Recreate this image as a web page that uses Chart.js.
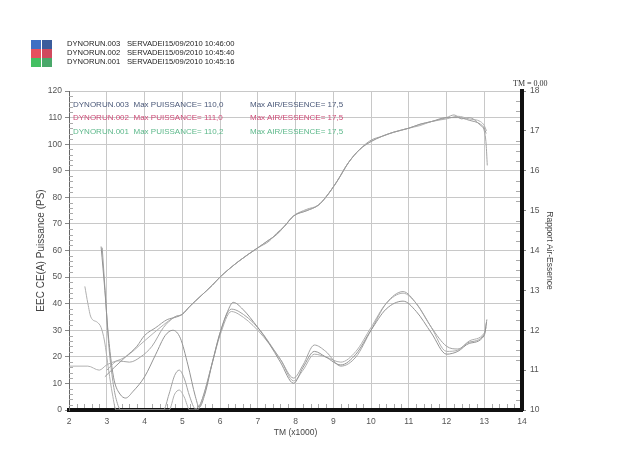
<!DOCTYPE html>
<html>
<head>
<meta charset="utf-8">
<script src="https://cdn.jsdelivr.net/npm/chart.js@4.4.1/dist/chart.umd.min.js"></script>
<style>
  html,body{margin:0;padding:0;background:#fff;}
  #wrap{position:relative;width:640px;height:465px;overflow:hidden;font-family:"Liberation Sans",Arial,sans-serif;}
  canvas{position:absolute;left:0;top:0;}
  .t{position:absolute;white-space:pre;font-size:7.6px;line-height:9px;color:#222;}
  .sq{position:absolute;width:10px;height:9px;}
  .il{position:absolute;white-space:pre;font-size:8px;line-height:10px;}
  #tm{position:absolute;left:513px;top:79px;font-family:"Liberation Serif","DejaVu Serif",serif;font-size:8px;color:#333;}
</style>
</head>
<body>
<div id="wrap">
  <canvas id="c" width="640" height="465"></canvas>
  <div class="sq" style="left:31px;top:40px;background:#3f6fc4"></div>
  <div class="sq" style="left:42px;top:40px;background:#3b5c9c"></div>
  <div class="sq" style="left:31px;top:49px;background:#e8505e"></div>
  <div class="sq" style="left:42px;top:49px;background:#d04a5e"></div>
  <div class="sq" style="left:31px;top:58px;background:#44c062"></div>
  <div class="sq" style="left:42px;top:58px;background:#4aa86a"></div>
  <div class="t" id="l1" style="left:67px;top:39px"></div>
  <div class="t" id="l2" style="left:67px;top:48px"></div>
  <div class="t" id="l3" style="left:67px;top:57px"></div>
  <div class="t" id="d1" style="left:127px;top:39px"></div>
  <div class="t" id="d2" style="left:127px;top:48px"></div>
  <div class="t" id="d3" style="left:127px;top:57px"></div>
  <div class="il" id="i1a" style="left:73px;top:100px;color:#4a5878"></div>
  <div class="il" id="i1b" style="left:250px;top:100px;color:#4a5878"></div>
  <div class="il" id="i2a" style="left:73px;top:113px;color:#cf4c78"></div>
  <div class="il" id="i2b" style="left:250px;top:113px;color:#cf4c78"></div>
  <div class="il" id="i3a" style="left:73px;top:127px;color:#5cb88a"></div>
  <div class="il" id="i3b" style="left:250px;top:127px;color:#5cb88a"></div>
  <div id="tm">TM = 0,00</div>
</div>
<script>
// ---- data ----
const runNames = ['DYNORUN.003','DYNORUN.002','DYNORUN.001'];
const runDates = ['SERVADEI15/09/2010 10:46:00','SERVADEI15/09/2010 10:45:40','SERVADEI15/09/2010 10:45:16'];
const maxPower = ['110,0','111,0','110,2'];
const maxAfr = ['17,5','17,5','17,5'];

const xTicks = [2,3,4,5,6,7,8,9,10,11,12,13,14];

const rpmPow003 = [2.95,3.2,3.5,3.8,4.0,4.3,4.6,4.85,5.0,5.2,5.5,5.8,6.0,6.5,7.0,7.3,7.5,7.7,7.95,8.3,8.6,8.8,9.1,9.4,9.7,10.0,10.3,10.6,11.0,11.3,11.6,12.0,12.3,12.6,12.9,13.0,13.05];
const pow003 = [12.5,16,20,24,28,31,34,35,36,39,43,47,50,56,61,64,66,69,73,75,77,80,86,93,98,101,103,104.5,106,107.5,108.5,110,110,109,107.5,106,104];

const rpmPow002 = [3.0,3.3,3.6,3.9,4.2,4.5,4.8,5.0,5.2,5.5,5.8,6.0,6.5,7.0,7.3,7.5,7.7,7.95,8.3,8.6,8.8,9.1,9.4,9.7,10.0,10.3,10.6,11.0,11.3,11.6,12.0,12.2,12.4,12.6,12.9,13.0,13.05,13.08];
const pow002 = [15,18.5,18,20,24,31,35,36,39,43,47,50,56,61,63.5,66.5,69,73,75.5,77,80,86,93,98,101.5,103,104.5,106,107.5,108.5,110,111,109.5,110,107,105,100,92];

const rpmPow001 = [2.0,2.5,2.8,3.0,3.5,4.0,4.5,4.8,5.0,5.2,5.5,5.8,6.0,6.5,7.0,7.3,7.5,7.7,7.95,8.3,8.6,8.8,9.1,9.4,9.7,10.0,10.3,10.6,11.0,11.3,11.6,12.0,12.3,12.6,12.9,13.0,13.06];
const pow001 = [16.5,16.5,15,17,20,26,32,35,36,39,43,47,50,56,61,64,66,69,73,75,77,80,86,93,98,101,103,104.5,106,107,108.5,109.5,110.5,109.5,108.5,107,105];

const rpmAfr003 = [2.85,2.95,3.03,3.12,3.2,3.35,3.5,3.7,4.0,4.3,4.55,4.75,4.95,5.15,5.35,5.45,5.6,5.8,6.0,6.2,6.35,6.6,7.0,7.3,7.6,7.95,8.2,8.5,8.8,9.2,9.6,10.0,10.4,10.85,11.2,11.6,12.0,12.3,12.6,13.0,13.07];
const afr003 = [14.10,13.00,12.00,11.20,10.73,10.40,10.30,10.47,10.83,11.40,11.87,12.00,11.80,11.13,10.33,10.07,10.40,11.20,11.93,12.47,12.70,12.53,12.07,11.67,11.20,10.67,11.07,11.47,11.33,11.13,11.40,12.00,12.53,12.73,12.47,11.93,11.40,11.47,11.67,11.87,12.27];

const rpmAfr002 = [2.88,2.97,3.05,3.15,3.25,3.38,4.5,4.65,4.8,4.92,5.05,5.2,5.35,5.5,5.8,6.0,6.3,6.5,7.0,7.6,7.95,8.2,8.5,8.8,9.2,9.6,10.0,10.4,10.85,11.2,11.6,12.0,12.3,12.6,13.0,13.06];
const afr002 = [14.07,12.80,11.67,10.80,10.27,10.00,10.00,10.40,10.87,11.00,10.80,10.33,10.03,10.20,11.20,11.93,12.53,12.47,12.07,11.27,10.80,11.13,11.63,11.47,11.10,11.33,12.00,12.67,12.97,12.67,12.07,11.60,11.53,11.70,11.90,12.20];

const rpmAfr001 = [2.42,2.5,2.58,2.75,2.85,2.94,3.05,3.15,3.25,4.65,4.8,4.92,5.05,5.2,5.4,5.55,5.8,6.0,6.3,6.5,7.0,7.6,7.95,8.2,8.5,8.8,9.2,9.6,10.0,10.4,10.85,11.2,11.6,12.0,12.3,12.6,13.0,13.05];
const afr001 = [13.10,12.67,12.33,12.20,12.07,11.73,11.00,10.40,10.00,10.00,10.40,10.50,10.33,10.00,10.00,10.33,11.20,11.87,12.47,12.40,12.00,11.27,10.73,11.00,11.40,11.33,11.20,11.47,12.07,12.67,12.93,12.67,12.07,11.47,11.50,11.73,11.93,12.07];

// ---- legends (text) ----
for (let i=0;i<3;i++){
  document.getElementById('l'+(i+1)).textContent = runNames[i];
  document.getElementById('d'+(i+1)).textContent = runDates[i];
  document.getElementById('i'+(i+1)+'a').textContent = runNames[i] + '  Max PUISSANCE= ' + maxPower[i];
  document.getElementById('i'+(i+1)+'b').textContent = 'Max AIR/ESSENCE= ' + maxAfr[i];
}

const zip = (xs, ys) => xs.map((x,i)=>({x:x, y:ys[i]}));
const lineDs = (label, xs, ys, color, axis) => ({
  label, data: zip(xs, ys), yAxisID: axis,
  borderColor: color, borderWidth: 1, pointRadius: 0,
  fill: false, cubicInterpolationMode: 'monotone', tension: 0.4
});

const minorTicks = {
  id: 'minorTicks',
  afterDraw(chart){
    const {ctx, scales:{x, y, y2}} = chart;
    ctx.save();
    ctx.strokeStyle = '#aaa';
    ctx.lineWidth = 1;
    ctx.beginPath();
    for (let v=2; v<120; v+=2){
      if (v%10===0) continue;
      const py = Math.round(y.getPixelForValue(v))+0.5;
      ctx.moveTo(x.left, py); ctx.lineTo(x.left+4, py);
    }
    for (let k=11; k<70; k++){
      if (k%5===0) continue;
      const px = Math.round(x.getPixelForValue(k/5))+0.5;
      ctx.moveTo(px, y.bottom-2); ctx.lineTo(px, y.bottom-6);
    }
    for (let k=41; k<72; k++){
      if (k%4===0) continue;
      const py = Math.round(y2.getPixelForValue(k/4))+0.5;
      ctx.moveTo(x.right-2, py); ctx.lineTo(x.right-6, py);
    }
    ctx.stroke();
    ctx.restore();
  }
};

const tickFont = {family:'"Liberation Sans", Arial, sans-serif', size:8.5};

new Chart(document.getElementById('c'), {
  type: 'line',
  data: {
    datasets: [
      lineDs('Puissance 003', rpmPow003, pow003, '#9a9a9a', 'y'),
      lineDs('Puissance 002', rpmPow002, pow002, '#a6a6a6', 'y'),
      lineDs('Puissance 001', rpmPow001, pow001, '#b2b2b2', 'y'),
      lineDs('Air/Essence 003', rpmAfr003, afr003, '#939393', 'y2'),
      lineDs('Air/Essence 002', rpmAfr002, afr002, '#a2a2a2', 'y2'),
      lineDs('Air/Essence 001', rpmAfr001, afr001, '#afafaf', 'y2')
    ]
  },
  plugins: [minorTicks],
  options: {
    responsive: false,
    animation: false,
    layout: {padding: {top: 91, left: 0, right: 0, bottom: 0}},
    plugins: {legend: {display: false}, tooltip: {enabled: false}, title: {display: false}},
    scales: {
      x: {
        type: 'linear', min: 2, max: 14,
        afterBuildTicks: s => { s.ticks = xTicks.map(v => ({value: v})); },
        afterFit: s => { s.height = 55; },
        ticks: {font: tickFont, color: '#555', padding: 7, maxRotation: 0, autoSkip: false},
        grid: {color: '#c8c8c8', lineWidth: 1, drawTicks: false},
        border: {color: '#111', width: 4},
        title: {display: true, text: 'TM (x1000)', color: '#444',
                font: {family:'"Liberation Sans", Arial, sans-serif', size: 8.5},
                padding: {top: 0, bottom: 27}}
      },
      y: {
        position: 'left', min: 0, max: 120,
        afterFit: s => { s.width = 69; },
        ticks: {stepSize: 10, font: tickFont, color: '#555', padding: 3},
        grid: {color: '#c8c8c8', lineWidth: 1, tickLength: 4, tickColor: '#888'},
        border: {color: '#666', width: 1},
        title: {display: true, text: 'EEC CE(A) Puissance (PS)', color: '#444',
                font: {family:'"Liberation Sans", Arial, sans-serif', size: 10},
                padding: {top: 35, bottom: 0}}
      },
      y2: {
        position: 'right', min: 10, max: 18,
        afterFit: s => { s.width = 118; },
        ticks: {stepSize: 1, font: tickFont, color: '#555', padding: 4},
        grid: {drawOnChartArea: false, tickLength: 4, tickColor: '#888'},
        border: {color: '#111', width: 4},
        title: {display: true, text: 'Rapport Air-Essence', color: '#444',
                font: {family:'"Liberation Sans", Arial, sans-serif', size: 8.5},
                padding: {top: 86, bottom: 0}}
      }
    }
  }
});
</script>
</body>
</html>
